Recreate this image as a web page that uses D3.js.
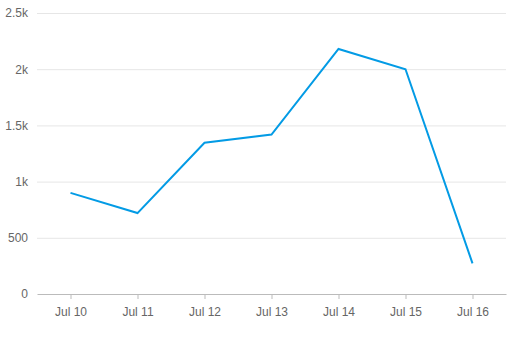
<!DOCTYPE html>
<html>
<head>
<meta charset="utf-8">
<script src="https://cdn.jsdelivr.net/npm/d3@7"></script>
<style>
  html, body { margin: 0; padding: 0; background: #fff; }
  svg { display: block; font-family: "Liberation Sans", Arial, sans-serif; }
  .axis text { fill: #666; font-size: 12px; }
</style>
</head>
<body>
<div id="chart"></div>
<script>
(function(){
  // Daily totals, Jul 10 - Jul 16.
  const days = ['Jul 10', 'Jul 11', 'Jul 12', 'Jul 13', 'Jul 14', 'Jul 15', 'Jul 16'];
  const values = [900, 720, 1345, 1418, 2180, 2000, 272];
  const yTicks = [0, 500, 1000, 1500, 2000, 2500];

  const width = 507, height = 339;
  const margin = {top: 13, right: 1, bottom: 45, left: 37};
  const innerWidth = width - margin.left - margin.right;
  const innerHeight = height - margin.top - margin.bottom;

  const svg = d3.select('#chart').append('svg')
    .attr('width', width)
    .attr('height', height);
  const plot = svg.append('g')
    .attr('transform', `translate(${margin.left},${margin.top})`);

  const x = d3.scalePoint().domain(days).range([0, innerWidth]).padding(0.5);
  const y = d3.scaleLinear().domain([0, 2500]).range([innerHeight, 0]);

  const fmt = v => v >= 1000 ? (v / 1000) + 'k' : String(v);

  // Horizontal grid lines with labels on the left.
  const yAxis = plot.append('g')
    .attr('class', 'axis axis--y')
    .call(d3.axisLeft(y).tickValues(yTicks).tickFormat(fmt).tickSize(-innerWidth).tickPadding(9));
  yAxis.select('.domain').remove();
  yAxis.selectAll('.tick line').attr('stroke', '#e6e6e6').attr('stroke-width', 1);
  yAxis.selectAll('.tick').filter(d => d === 0).select('line').remove();

  // Bottom axis line with small ticks.
  const xAxis = plot.append('g')
    .attr('class', 'axis axis--x')
    .attr('transform', `translate(0,${innerHeight})`)
    .call(d3.axisBottom(x).tickSize(5).tickSizeOuter(0).tickPadding(8));
  xAxis.select('.domain').attr('stroke', '#bbb');
  xAxis.selectAll('.tick line').attr('stroke', '#bbb');

  const line = d3.line()
    .x((d, i) => x(days[i]))
    .y(d => y(d));

  plot.append('path')
    .datum(values)
    .attr('fill', 'none')
    .attr('stroke', '#039be5')
    .attr('stroke-width', 2)
    .attr('stroke-linejoin', 'miter')
    .attr('d', line);
})();
</script>
</body>
</html>
